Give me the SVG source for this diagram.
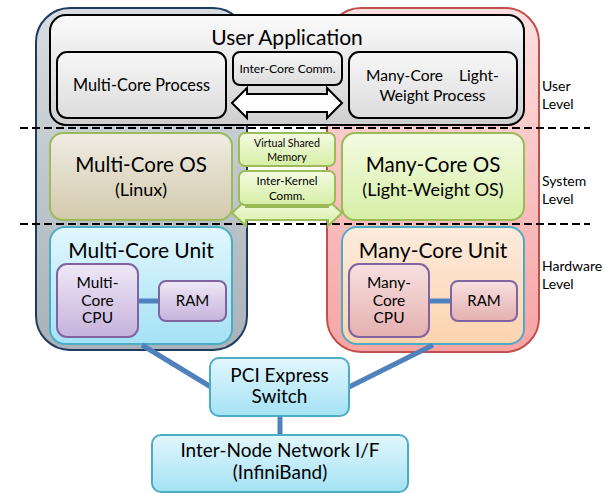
<svg xmlns="http://www.w3.org/2000/svg" width="604" height="493" viewBox="0 0 604 493">
<defs>
<linearGradient id="gGray" x1="0" y1="0" x2="0" y2="1"><stop offset="0" stop-color="#d8dde1"/><stop offset="1" stop-color="#a8b2b8"/></linearGradient>
<linearGradient id="gPink" x1="0" y1="0" x2="0" y2="1"><stop offset="0" stop-color="#fde0e0"/><stop offset="1" stop-color="#f7a4a4"/></linearGradient>
<linearGradient id="gApp" x1="0" y1="0" x2="0" y2="1"><stop offset="0" stop-color="#fbfbfb"/><stop offset="1" stop-color="#cfcfcf"/></linearGradient>
<linearGradient id="gProc" x1="0" y1="0" x2="0" y2="1"><stop offset="0" stop-color="#f7f7f7"/><stop offset="1" stop-color="#dcdcdc"/></linearGradient>
<linearGradient id="gTan" x1="0" y1="0" x2="0" y2="1"><stop offset="0" stop-color="#efece3"/><stop offset="1" stop-color="#d3c9ac"/></linearGradient>
<linearGradient id="gLime" x1="0" y1="0" x2="0" y2="1"><stop offset="0" stop-color="#f4fbe2"/><stop offset="1" stop-color="#d6efa6"/></linearGradient>
<linearGradient id="gCyan" x1="0" y1="0" x2="0" y2="1"><stop offset="0" stop-color="#e2f7fd"/><stop offset="1" stop-color="#a4e2f5"/></linearGradient>
<linearGradient id="gPeach" x1="0" y1="0" x2="0" y2="1"><stop offset="0" stop-color="#fdebdd"/><stop offset="1" stop-color="#fbd3ae"/></linearGradient>
<linearGradient id="gPurple" x1="0" y1="0" x2="0" y2="1"><stop offset="0" stop-color="#efe8f6"/><stop offset="1" stop-color="#c6b2dc"/></linearGradient>
<linearGradient id="gRose" x1="0" y1="0" x2="0" y2="1"><stop offset="0" stop-color="#f7e0e0"/><stop offset="1" stop-color="#e5b0b0"/></linearGradient>
</defs>
<style>
text{font-family:Lato,"Open Sans","Liberation Sans",sans-serif;fill:#000;text-anchor:middle}
.side{text-anchor:start;font-size:14px}
.dash{stroke:#000;stroke-width:2;stroke-dasharray:8 4;fill:none}
.link{stroke:#4f81bd;stroke-width:5;fill:none}
.os{stroke:#9bbb59;stroke-width:2}
.unit{stroke:#4bacc6;stroke-width:2}
.cpu{stroke:#8064a2;stroke-width:2}
.proc{fill:url(#gProc);stroke:#000;stroke-width:2}
</style>
<rect width="604" height="493" fill="#fff"/>

<g id="multicore-node">
<rect x="36" y="8" width="211" height="342" rx="34" fill="url(#gGray)" stroke="#1f3a5f" stroke-width="2"/>
</g>
<g id="manycore-node">
<rect x="327" y="8" width="212" height="344" rx="34" fill="url(#gPink)" stroke="#c0504d" stroke-width="2"/>
</g>

<g id="user-application">
<rect x="50" y="15" width="474" height="110" rx="16" fill="url(#gApp)" stroke="#000" stroke-width="2"/>
<text x="287" y="45" font-size="21">User Application</text>
</g>

<g id="level-lines">
<line class="dash" x1="20" y1="128" x2="590" y2="128"/>
<line class="dash" x1="20" y1="224" x2="590" y2="224"/>
</g>

<g id="multi-core-process">
<rect class="proc" x="57" y="52" width="169" height="66" rx="10"/>
<text x="141.5" y="91" font-size="16.3">Multi-Core Process</text>
</g>
<g id="inter-core-comm">
<rect class="proc" x="233" y="52" width="109" height="33" rx="7"/>
<text x="287.5" y="73" font-size="12.2">Inter-Core Comm.</text>
</g>
<g id="many-core-process">
<rect class="proc" x="349" y="52" width="168" height="66" rx="10"/>
<text x="432.5" y="81" font-size="15.6" xml:space="preserve">Many-Core    Light-</text>
<text x="432.5" y="101" font-size="15.6">Weight Process</text>
</g>

<g id="multi-core-os">
<rect class="os" x="50" y="133" width="182" height="87" rx="13" fill="url(#gTan)"/>
<text x="141" y="172" font-size="20.6">Multi-Core OS</text>
<text x="141" y="196" font-size="18">(Linux)</text>
</g>
<g id="many-core-os">
<rect class="os" x="342" y="133" width="182" height="87" rx="13" fill="url(#gLime)"/>
<text x="433" y="172" font-size="20.6">Many-Core OS</text>
<text x="433" y="196" font-size="18">(Light-Weight OS)</text>
</g>

<g id="multi-core-unit">
<rect class="unit" x="50" y="227" width="182" height="117" rx="15" fill="url(#gCyan)"/>
<text x="141" y="258" font-size="21">Multi-Core Unit</text>
</g>
<g id="many-core-unit">
<rect class="unit" x="342" y="227" width="182" height="117" rx="15" fill="url(#gPeach)"/>
<text x="433" y="258" font-size="21">Many-Core Unit</text>
</g>

<g id="connectors">
<polygon points="232,103 247,88 247,94 327,94 327,88 342,103 327,118 327,112 247,112 247,118" fill="#fff" stroke="#000" stroke-width="2" stroke-linejoin="miter"/>
<polygon points="232,213 246,200 246,207 328,207 328,200 342,213 328,226 328,220 246,220 246,226" fill="url(#gLime)" stroke="#9bbb59" stroke-width="2"/>
<line class="link" x1="138" y1="301" x2="159" y2="301" stroke-width="6"/>
<line class="link" x1="429" y1="301" x2="451" y2="301" stroke-width="6"/>
<line class="link" x1="142" y1="345" x2="211" y2="387"/>
<line class="link" x1="433" y1="345" x2="349" y2="387"/>
<line class="link" x1="280" y1="416" x2="280" y2="435"/>
</g>

<g id="virtual-shared-memory">
<rect class="os" x="239" y="133" width="96" height="33" rx="6" fill="url(#gLime)"/>
<text x="287" y="147" font-size="10.6">Virtual Shared</text>
<text x="287" y="161" font-size="10.6">Memory</text>
</g>
<g id="inter-kernel-comm">
<rect class="os" x="239" y="171" width="96" height="34" rx="6" fill="url(#gLime)"/>
<text x="287" y="185" font-size="11.6">Inter-Kernel</text>
<text x="287" y="200" font-size="11.6">Comm.</text>
</g>

<g id="multi-core-cpu">
<rect class="cpu" x="57" y="264" width="81" height="73" rx="10" fill="url(#gPurple)"/>
<text x="97.5" y="288" font-size="15.5">Multi-</text>
<text x="97.5" y="306" font-size="15.5">Core</text>
<text x="97.5" y="323" font-size="15.5">CPU</text>
</g>
<g id="multi-core-ram">
<rect class="cpu" x="159" y="281" width="67" height="40" rx="7" fill="url(#gPurple)"/>
<text x="192.5" y="306" font-size="15">RAM</text>
</g>
<g id="many-core-cpu">
<rect class="cpu" x="349" y="264" width="80" height="73" rx="10" fill="url(#gRose)"/>
<text x="389" y="288" font-size="15.5">Many-</text>
<text x="389" y="306" font-size="15.5">Core</text>
<text x="389" y="323" font-size="15.5">CPU</text>
</g>
<g id="many-core-ram">
<rect class="cpu" x="451" y="281" width="66" height="40" rx="7" fill="url(#gRose)"/>
<text x="484" y="306" font-size="15">RAM</text>
</g>

<g id="pci-express-switch">
<rect class="unit" x="210" y="358" width="139" height="58" rx="9" fill="url(#gCyan)"/>
<text x="279.5" y="382" font-size="19">PCI Express</text>
<text x="279.5" y="403" font-size="19">Switch</text>
</g>
<g id="inter-node-network">
<rect class="unit" x="152" y="435" width="256" height="57" rx="9" fill="url(#gCyan)"/>
<text x="280" y="457" font-size="19">Inter-Node Network I/F</text>
<text x="280" y="479" font-size="19">(InfiniBand)</text>
</g>

<g id="level-labels">
<text class="side" x="542" y="91">User</text>
<text class="side" x="542" y="109">Level</text>
<text class="side" x="542" y="186">System</text>
<text class="side" x="542" y="204">Level</text>
<text class="side" x="542" y="271">Hardware</text>
<text class="side" x="542" y="289">Level</text>
</g>
</svg>
